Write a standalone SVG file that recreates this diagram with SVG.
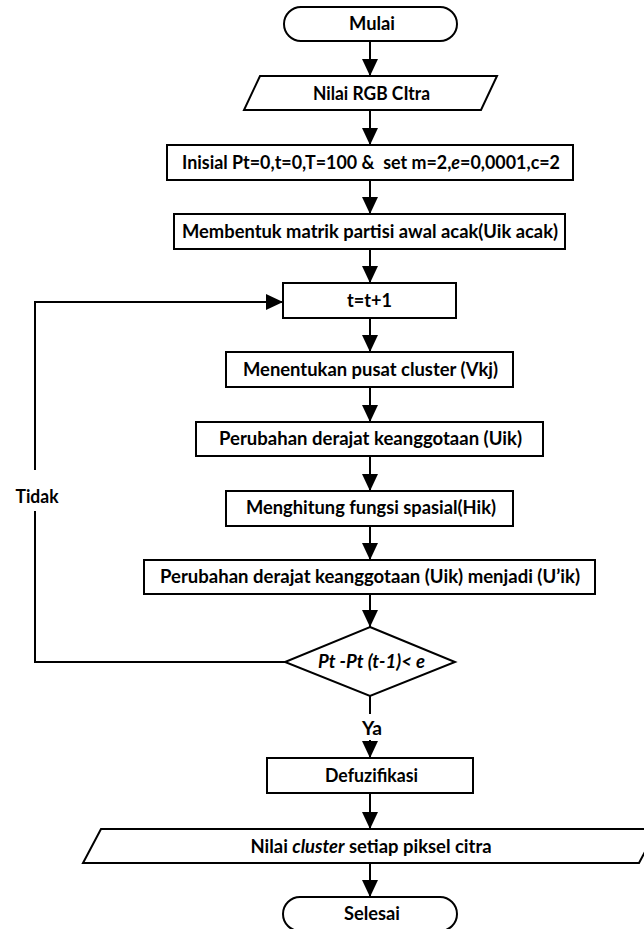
<svg xmlns="http://www.w3.org/2000/svg" width="644" height="929" viewBox="0 0 644 929">
<style>
.s{fill:#fff;stroke:#000;stroke-width:2}
.t{font-family:Lato,"Liberation Sans",sans-serif;font-weight:bold;font-size:18px;fill:#000;text-anchor:middle}
.c{fill:none;stroke:#000;stroke-width:2}
</style>
<defs>
<marker id="ah" markerUnits="userSpaceOnUse" markerWidth="17" markerHeight="16" refX="17" refY="8" orient="auto">
<path d="M0,0 L17,8 L0,16 Z" fill="#000"/>
</marker>
</defs>
<rect width="644" height="929" fill="#fff"/>
<g id="connectors">
<line class="c" x1="370" y1="41" x2="370" y2="76" marker-end="url(#ah)"/>
<line class="c" x1="370" y1="110" x2="370" y2="145" marker-end="url(#ah)"/>
<line class="c" x1="370" y1="180" x2="370" y2="214" marker-end="url(#ah)"/>
<line class="c" x1="370" y1="249" x2="370" y2="283" marker-end="url(#ah)"/>
<line class="c" x1="370" y1="318" x2="370" y2="352" marker-end="url(#ah)"/>
<line class="c" x1="370" y1="387" x2="370" y2="422" marker-end="url(#ah)"/>
<line class="c" x1="370" y1="456" x2="370" y2="491" marker-end="url(#ah)"/>
<line class="c" x1="370" y1="526" x2="370" y2="560" marker-end="url(#ah)"/>
<line class="c" x1="370" y1="594" x2="370" y2="627" marker-end="url(#ah)"/>
<line class="c" x1="370" y1="696" x2="370" y2="714"/>
<line class="c" x1="370" y1="740" x2="370" y2="758" marker-end="url(#ah)"/>
<line class="c" x1="370" y1="793" x2="370" y2="829" marker-end="url(#ah)"/>
<line class="c" x1="370" y1="863" x2="370" y2="897" marker-end="url(#ah)"/>
<polyline class="c" points="285,662 35,662 35,511"/>
<polyline class="c" points="35,470 35,302 283,302" marker-end="url(#ah)"/>
<text class="t" x="37" y="503" textLength="43" lengthAdjust="spacingAndGlyphs">Tidak</text>
<text class="t" x="372" y="735" textLength="20" lengthAdjust="spacingAndGlyphs">Ya</text>
</g>
<g id="mulai">
<rect class="s" x="284" y="7" width="173" height="34" rx="17"/>
<text class="t" x="372" y="30" textLength="46" lengthAdjust="spacingAndGlyphs">Mulai</text>
</g>
<g id="input">
<polygon class="s" points="260,76 497,76 481,110 244,110"/>
<text class="t" x="371.5" y="100" textLength="117" lengthAdjust="spacingAndGlyphs">Nilai RGB CItra</text>
</g>
<g id="inisial">
<rect class="s" x="167" y="145" width="406" height="35"/>
<text class="t" x="371" y="169" textLength="378" lengthAdjust="spacingAndGlyphs" xml:space="preserve">Inisial Pt=0,t=0,T=100 &amp;  set m=2,<tspan font-style="italic">e</tspan>=0,0001,c=2</text>
</g>
<g id="membentuk">
<rect class="s" x="174" y="214" width="391" height="35"/>
<text class="t" x="370" y="238" textLength="376" lengthAdjust="spacingAndGlyphs">Membentuk matrik partisi awal acak(Uik acak)</text>
</g>
<g id="iterasi">
<rect class="s" x="283" y="283" width="173" height="35"/>
<text class="t" x="369.5" y="307" textLength="45" lengthAdjust="spacingAndGlyphs">t=t+1</text>
</g>
<g id="pusat">
<rect class="s" x="226" y="352" width="287" height="35"/>
<text class="t" x="370.5" y="376" textLength="255" lengthAdjust="spacingAndGlyphs">Menentukan pusat cluster (Vkj)</text>
</g>
<g id="uik">
<rect class="s" x="196" y="422" width="347" height="34"/>
<text class="t" x="370.5" y="445" textLength="303" lengthAdjust="spacingAndGlyphs">Perubahan derajat keanggotaan (Uik)</text>
</g>
<g id="hik">
<rect class="s" x="226" y="491" width="287" height="35"/>
<text class="t" x="371" y="514" textLength="250" lengthAdjust="spacingAndGlyphs">Menghitung fungsi spasial(Hik)</text>
</g>
<g id="uik2">
<rect class="s" x="144" y="560" width="451" height="34"/>
<text class="t" x="370" y="583" textLength="420" lengthAdjust="spacingAndGlyphs">Perubahan derajat keanggotaan (Uik) menjadi (U’ik)</text>
</g>
<g id="kondisi">
<polygon class="s" points="370,627 455,662 370,696 285,662"/>
<text class="t" x="371.5" y="668" font-style="italic" textLength="107" lengthAdjust="spacingAndGlyphs">Pt -Pt (t-1)&lt; e</text>
</g>
<g id="defuzifikasi">
<rect class="s" x="267" y="758" width="206" height="35"/>
<text class="t" x="371.5" y="782" textLength="93" lengthAdjust="spacingAndGlyphs">Defuzifikasi</text>
</g>
<g id="output">
<polygon class="s" points="101,829 657,829 639,863 83,863"/>
<text class="t" x="371" y="853" textLength="241" lengthAdjust="spacingAndGlyphs">Nilai <tspan font-style="italic">cluster</tspan> setiap piksel citra</text>
</g>
<g id="selesai">
<rect class="s" x="283" y="897" width="174" height="34" rx="17"/>
<text class="t" x="372" y="920" textLength="56" lengthAdjust="spacingAndGlyphs">Selesai</text>
</g>
</svg>
